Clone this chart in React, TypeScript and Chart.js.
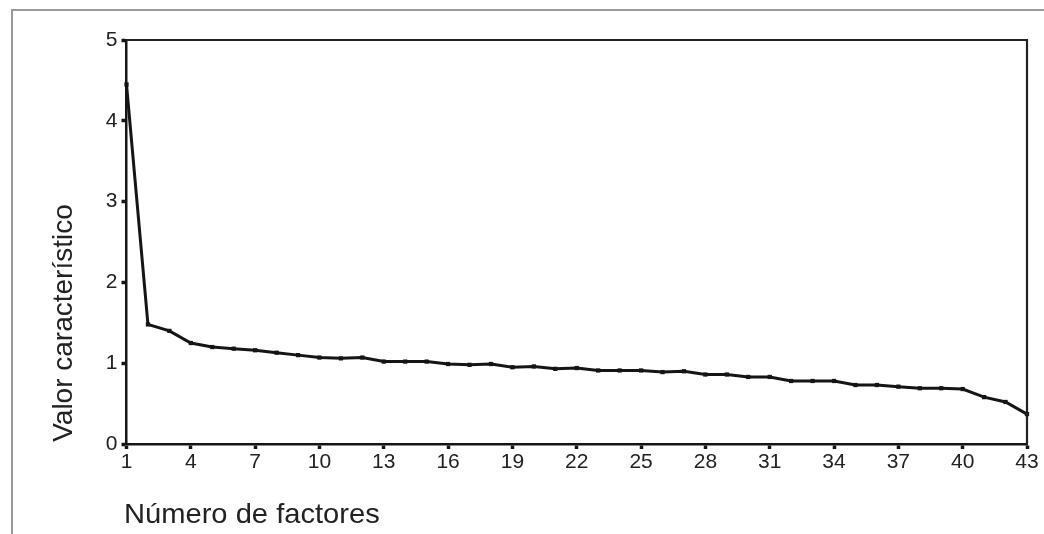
import React, { useEffect, useRef } from "react";
import { Chart, registerables } from "chart.js";

Chart.register(...registerables);

const factors = [1,2,3,4,5,6,7,8,9,10,11,12,13,14,15,16,17,18,19,20,21,22,23,24,25,26,27,28,29,30,31,32,33,34,35,36,37,38,39,40,41,42,43];
const eigenvalues = [4.45,1.48,1.40,1.25,1.20,1.18,1.16,1.13,1.10,1.07,1.06,1.07,1.02,1.02,1.02,0.99,0.98,0.99,0.95,0.96,0.93,0.94,0.91,0.91,0.91,0.89,0.90,0.86,0.86,0.83,0.83,0.78,0.78,0.78,0.73,0.73,0.71,0.69,0.69,0.68,0.58,0.52,0.37];
const xTickLabels = [1,4,7,10,13,16,19,22,25,28,31,34,37,40,43];
const yTickLabels = [0,1,2,3,4,5];
const xTitle = "Número de factores";
const yTitle = "Valor característico";

const FONT = '"Liberation Sans", Arial, sans-serif';
const INK = "#151515";

const frameAndTitles = {
  id: "frameAndTitles",
  afterDraw(chart: any) {
    const { ctx, chartArea } = chart;
    ctx.save();
    ctx.strokeStyle = "#222";
    ctx.lineWidth = 2.2;
    ctx.beginPath();
    ctx.moveTo(chartArea.left, chartArea.top);
    ctx.lineTo(chartArea.right, chartArea.top);
    ctx.lineTo(chartArea.right, chartArea.bottom);
    ctx.stroke();

    ctx.fillStyle = "#222";
    ctx.font = `28px ${FONT}`;
    ctx.textAlign = "center";
    ctx.textBaseline = "middle";
    ctx.save();
    ctx.translate(64, 323);
    ctx.rotate(-Math.PI / 2);
    ctx.fillText(yTitle, 0, 0);
    ctx.restore();

    ctx.save();
    ctx.translate(124, 523);
    ctx.scale(1.04, 1);
    ctx.textAlign = "left";
    ctx.textBaseline = "alphabetic";
    ctx.fillText(xTitle, 0, 0);
    ctx.restore();
    ctx.restore();
  },
};

export default function App() {
  const ref = useRef<HTMLCanvasElement>(null);
  useEffect(() => {
    if (!ref.current) return;
    const chart = new Chart(ref.current, {
      type: "line",
      data: {
        datasets: [
          {
            data: factors.map((f, i) => ({ x: f, y: eigenvalues[i] })),
            borderColor: INK,
            backgroundColor: INK,
            borderWidth: 3,
            pointStyle: "rect",
            pointRadius: 3,
            pointBackgroundColor: INK,
            pointBorderColor: INK,
            pointBorderWidth: 0,
            tension: 0,
            clip: false as any,
          },
        ],
      },
      options: {
        responsive: false,
        animation: false,
        events: [],
        layout: { padding: { top: 40, right: 17, left: 0, bottom: 0 } },
        plugins: { legend: { display: false }, tooltip: { enabled: false } },
        scales: {
          x: {
            type: "linear",
            min: 1,
            max: 43,
            afterBuildTicks: (s: any) => {
              s.ticks = xTickLabels.map((v) => ({ value: v }));
            },
            afterFit: (s: any) => {
              s.height = 90;
            },
            grid: {
              drawOnChartArea: false,
              drawTicks: true,
              tickLength: 5,
              tickWidth: 3.5,
              tickColor: INK,
            },
            border: { display: true, color: INK, width: 2.5 },
            ticks: {
              color: "#222",
              font: { family: FONT, size: 21 },
              padding: 1,
              maxRotation: 0,
              autoSkip: false,
              callback: (v: any) => String(v),
            },
          },
          y: {
            type: "linear",
            min: 0,
            max: 5,
            afterBuildTicks: (s: any) => {
              s.ticks = yTickLabels.map((v) => ({ value: v }));
            },
            afterFit: (s: any) => {
              s.width = 126.5;
            },
            grid: {
              drawOnChartArea: false,
              drawTicks: true,
              tickLength: 5,
              tickWidth: 3.5,
              tickColor: INK,
            },
            border: { display: true, color: INK, width: 2.5 },
            ticks: {
              color: "#222",
              font: { family: FONT, size: 21 },
              padding: 4,
              callback: (v: any) => String(v),
            },
          },
        },
      },
      plugins: [frameAndTitles],
    });
    return () => chart.destroy();
  }, []);

  return (
    <div style={{ position: "fixed", left: 0, top: 0, width: 1044, height: 534, background: "#fff" }}>
      <div
        style={{
          position: "absolute",
          left: 11,
          top: 9,
          width: 1040,
          height: 530,
          borderLeft: "2px solid #9a9a9a",
          borderTop: "2px solid #9a9a9a",
        }}
      />
      <canvas ref={ref} width={1044} height={534} style={{ position: "absolute", left: 0, top: 0 }} />
    </div>
  );
}
